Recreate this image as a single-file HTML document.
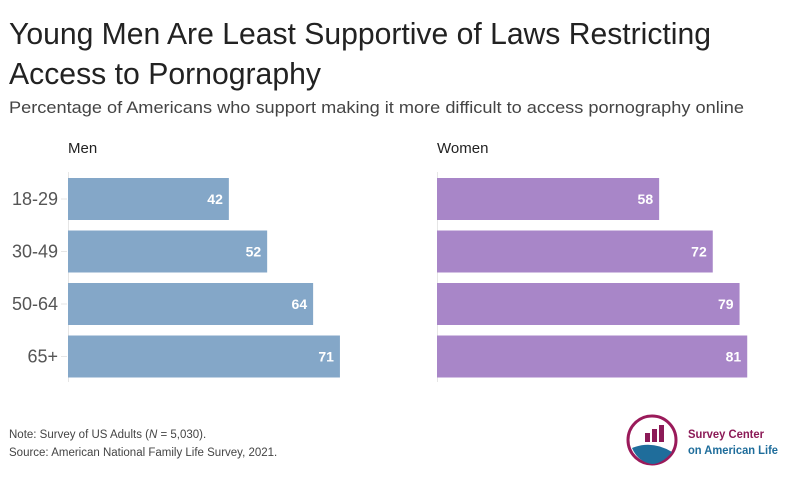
<!DOCTYPE html>
<html><head><meta charset="utf-8"><style>
body{margin:0;background:#fff;font-family:"Liberation Sans",sans-serif;}
#c{position:relative;width:794px;height:492px;overflow:hidden;}
</style></head><body><div id="c">
<svg width="794" height="492" xmlns="http://www.w3.org/2000/svg" id="svg">
<text x="9" y="44" font-size="31" fill="#222" textLength="702" lengthAdjust="spacingAndGlyphs">Young Men Are Least Supportive of Laws Restricting</text>
<text x="9" y="84" font-size="31" fill="#222" textLength="312" lengthAdjust="spacingAndGlyphs">Access to Pornography</text>
<text x="9" y="113" font-size="17" fill="#444" textLength="735" lengthAdjust="spacingAndGlyphs">Percentage of Americans who support making it more difficult to access pornography online</text>
<text x="68" y="153" font-size="15" fill="#222">Men</text>
<text x="437" y="153" font-size="15" fill="#222">Women</text>
<g id="bars"></g>
<text x="9" y="438" font-size="11.5" fill="#444">Note: Survey of US Adults (<tspan font-style="italic">N</tspan> = 5,030).</text>
<text x="9" y="456" font-size="11.5" fill="#444">Source: American National Family Life Survey, 2021.</text>
<g>
<circle cx="652" cy="440" r="24" fill="none" stroke="#9a1a5a" stroke-width="3"/>
<path d="M632 448 Q652 440 672 452 Q662 464 652 464 Q638 462 632 448Z" fill="#1f6d9b"/>
<rect x="645" y="433" width="5" height="9" fill="#8c1a57"/><rect x="652" y="429" width="5" height="13" fill="#8c1a57"/><rect x="659" y="425" width="5" height="17" fill="#8c1a57"/>
<text x="688" y="438" font-size="12" font-weight="bold" fill="#8c1a57" textLength="76" lengthAdjust="spacingAndGlyphs">Survey Center</text>
<text x="688" y="454" font-size="12" font-weight="bold" fill="#1f6d9b" textLength="90" lengthAdjust="spacingAndGlyphs">on American Life</text>
</g>
</svg>
<script>
const categories=["18-29","30-49","50-64","65+"];
const menValues=[42,52,64,71];
const womenValues=[58,72,79,81];
const NS="http://www.w3.org/2000/svg";
const g=document.getElementById("bars");
const scale=v=>v*3.83;
const yPos=i=>178+i*52.5;
function mk(t,a){const e=document.createElementNS(NS,t);for(const k in a)e.setAttribute(k,a[k]);g.appendChild(e);return e;}
[[68,menValues,"#84a7c8","men"],[437,womenValues,"#a886c8","women"]].forEach(([x0,vals,col,nm])=>{
  const ax=mk("line",{x1:x0+0.5,x2:x0+0.5,y1:172,y2:382,stroke:"#e6e6e6","stroke-width":1});
  
  
  vals.forEach((v,i)=>{
    const r=mk("rect",{x:x0,y:yPos(i),width:scale(v),height:42,fill:col});
    
    
    const t=mk("text",{x:x0+scale(v)-6,y:yPos(i)+26,"font-size":14,"font-weight":"bold",fill:"#fff","text-anchor":"end"});
    t.textContent=v;
    
    
  });
});
categories.forEach((c,i)=>{
  const t=mk("text",{x:58,y:yPos(i)+27,"font-size":18,fill:"#555","text-anchor":"end"});
  t.textContent=c;
  
  
  const tk=mk("line",{x1:61,x2:67,y1:yPos(i)+21,y2:yPos(i)+21,stroke:"#e6e6e6"});
  
  
});
</script>
</div></body></html>
